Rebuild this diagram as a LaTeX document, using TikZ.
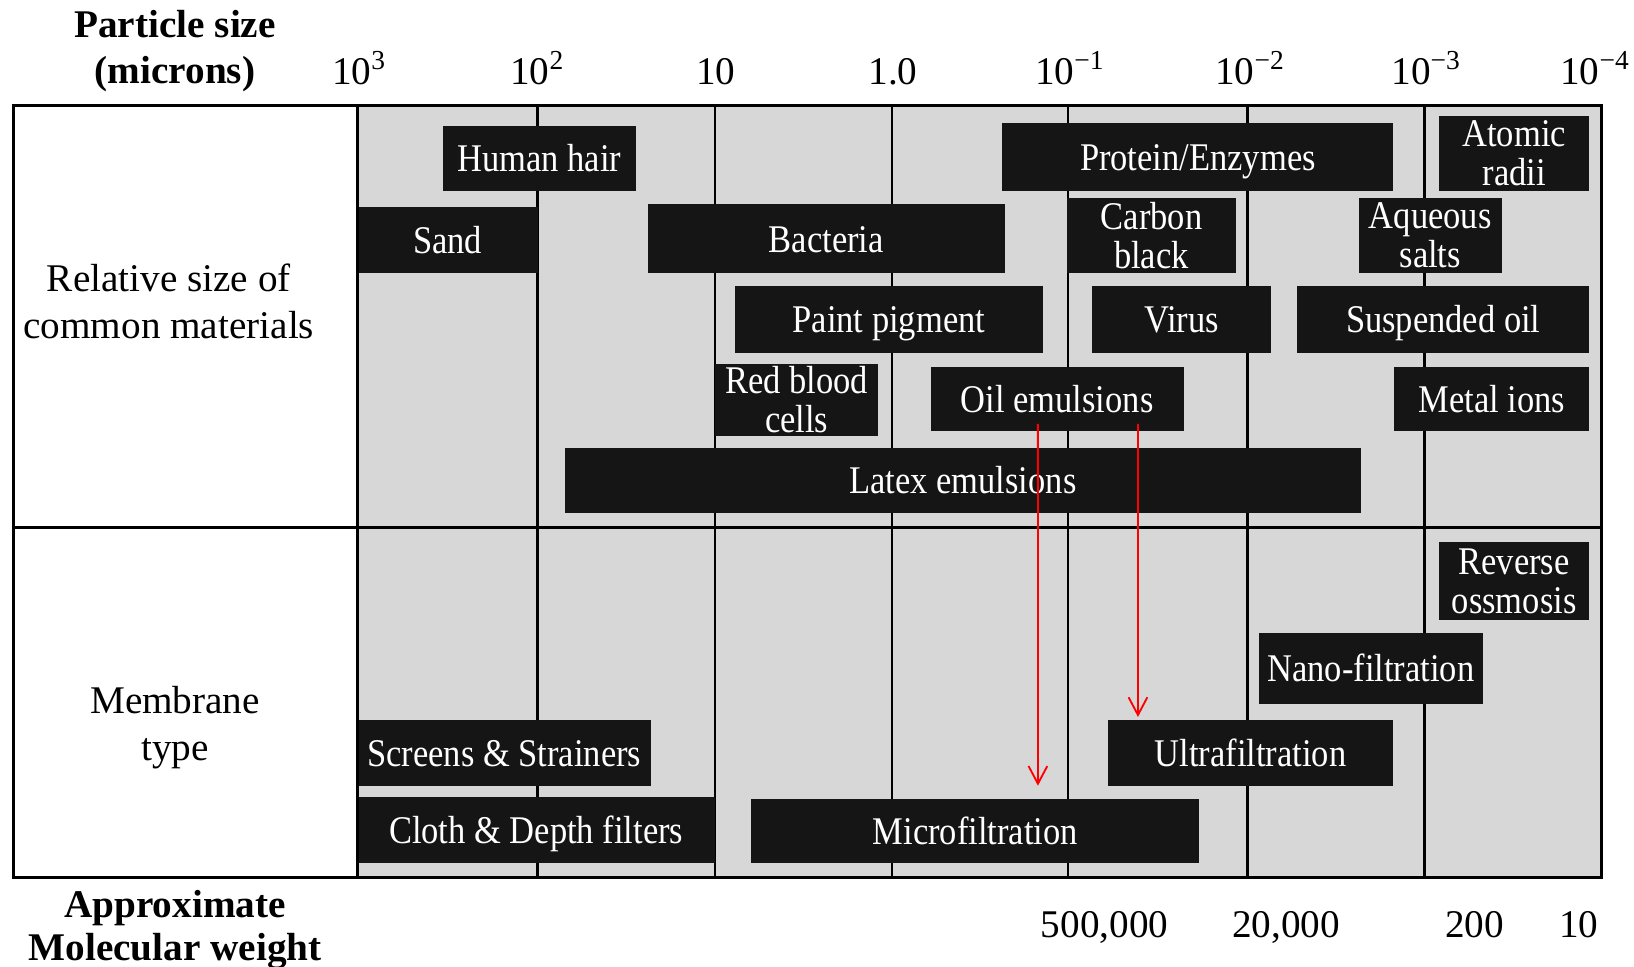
\documentclass[tikz,border=0pt]{standalone}
\usepackage{fontspec}
\setmainfont{Liberation Serif}
\newfontfamily\boxfont{Liberation Serif}[FakeStretch=0.88]
\usetikzlibrary{arrows.meta}
\definecolor{fieldgray}{RGB}{214,215,214}
\definecolor{boxblack}{RGB}{21,21,21}
\tikzset{
	gridline/.style={line width=0.7pt, color=black},
	matblock/.style={fill=boxblack, text=white, inner sep=0pt, align=center, font=\boxfont\fontsize{10.7}{10.6}\selectfont},
	oneline/.style={text height=2.58mm, text depth=0pt},
	axislabel/.style={inner sep=0pt, align=center, font=\fontsize{10.7}{12.8}\selectfont},
	headlabel/.style={inner sep=0pt, align=center, font=\bfseries\fontsize{10.7}{12.8}\selectfont},
	flowarrow/.style={red, line width=0.5pt, -{Straight Barb[length=1.7mm,width=1.8mm]}}
}
\def\matbox[#1](#2)(#3,#4)(#5,#6)#7{\node[matblock, #1, minimum width={(#5-#3)*0.01cm}, minimum height={(#6-#4)*0.01cm}] (#2) at ({(#3+#5)/2},{(#4+#6)/2}) {#7};}

\begin{document}
\begin{tikzpicture}[x=0.01cm, y=-0.01cm]
	%%%%% START %%%%%
	\useasboundingbox (0,0) rectangle (1568,927);
	
	\fill[fieldgray] (343,101) rectangle (1537,842);
	\draw[gridline] (516,101) -- (516,842);
	\draw[gridline] (686,101) -- (686,842);
	\draw[gridline] (856,101) -- (856,842);
	\draw[gridline] (1025,101) -- (1025,842);
	\draw[gridline] (1197,101) -- (1197,842);
	\draw[gridline] (1367,101) -- (1367,842);
	
	% size scale
	\node[headlabel] (psize) at (168,49) {Particle size\\(microns)};
	\node[axislabel, anchor=base] (t3) at (345,81) {10\textsuperscript{3}};
	\node[axislabel, anchor=base] (t2) at (516,81) {10\textsuperscript{2}};
	\node[axislabel, anchor=base] (t1) at (687,81) {10};
	\node[axislabel, anchor=base] (t0) at (857,81) {1.0};
	\node[axislabel, anchor=base] (tm1) at (1027,81) {10\textsuperscript{−1}};
	\node[axislabel, anchor=base] (tm2) at (1200,81) {10\textsuperscript{−2}};
	\node[axislabel, anchor=base] (tm3) at (1369,81) {10\textsuperscript{−3}};
	\node[axislabel, anchor=base] (tm4) at (1531,81) {10\textsuperscript{−4}};
	
	% common materials
	\node[axislabel] (matlab) at (162,289) {Relative size of\\common materials};
	\matbox[oneline](hair)(425,121)(610,183){Human hair}
	\matbox[oneline](protein)(962,118)(1337,183){Protein/Enzymes}
	\matbox[](atomic)(1381,111)(1525,183){Atomic\\radii}
	\matbox[oneline](sand)(343,199)(516,262){Sand}
	\matbox[oneline](bacteria)(622,196)(964,262){Bacteria}
	\matbox[](carbon)(1024,190)(1186,262){Carbon\\black}
	\matbox[](aqueous)(1304,190)(1441,262){Aqueous\\salts}
	\matbox[oneline](paint)(705,274)(1001,339){Paint pigment}
	\matbox[oneline](virus)(1048,274)(1220,339){Virus}
	\matbox[oneline](suspoil)(1245,274)(1525,339){Suspended oil}
	\matbox[](blood)(686,349)(843,418){Red blood\\cells}
	\matbox[oneline](oil)(893,352)(1136,414){Oil emulsions}
	\matbox[oneline](metal)(1338,352)(1525,414){Metal ions}
	\matbox[oneline](latex)(542,430)(1306,492){Latex emulsions}
	
	% membranes
	\node[axislabel] (memlab) at (168,698) {Membrane\\type};
	\matbox[](ro)(1381,520)(1525,595){Reverse\\ossmosis}
	\matbox[oneline](nf)(1208,607)(1423,676){Nano-filtration}
	\matbox[oneline](screens)(343,691)(625,754){Screens \& Strainers}
	\matbox[oneline](uf)(1063,691)(1337,754){Ultrafiltration}
	\matbox[oneline](cloth)(343,765)(686,828){Cloth \& Depth filters}
	\matbox[oneline](mf)(721,767)(1151,828){Microfiltration}
	
	\draw[gridline] (343,101) -- (343,842);
	\draw[gridline] (13,506) -- (1537,506);
	\draw[gridline] (13,101) rectangle (1537,842);
	
	% molecular weight
	\node[headlabel, font=\bfseries\fontsize{10.7}{11.9}\selectfont] (mwlab) at (168,892) {Approximate\\Molecular weight};
	\node[axislabel, anchor=base] (mw1) at (1060,900) {500,000};
	\node[axislabel, anchor=base] (mw2) at (1234,900) {20,000};
	\node[axislabel, anchor=base] (mw3) at (1415,900) {200};
	\node[axislabel, anchor=base] (mw4) at (1515,900) {10};
	
	\coordinate (mfin) at (996,754);
	\coordinate (ufin) at (1092,688);
	\draw[flowarrow] ([xshift=-1.85mm, yshift=0.8mm]oil.south) -- (mfin);
	\draw[flowarrow] ([xshift=7.75mm, yshift=0.8mm]oil.south) -- (ufin);
	
	%%%%% END %%%%%
\end{tikzpicture}
\end{document}
